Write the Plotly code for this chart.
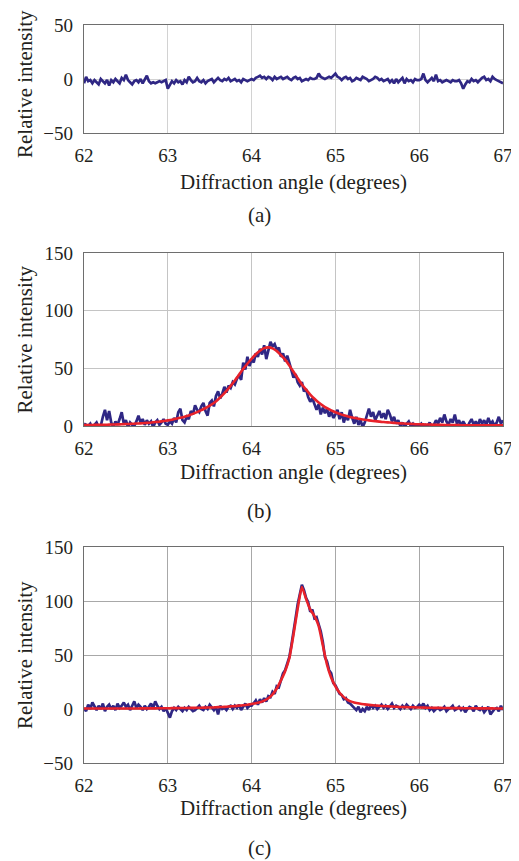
import plotly.graph_objects as go

# ---------------- data ----------------
ANGLE = [
    62.000, 62.025, 62.050, 62.075, 62.100, 62.125, 62.150, 62.175, 62.200, 62.225,
    62.250, 62.275, 62.300, 62.325, 62.350, 62.375, 62.400, 62.425, 62.450, 62.475,
    62.500, 62.525, 62.550, 62.575, 62.600, 62.625, 62.650, 62.675, 62.700, 62.725,
    62.750, 62.775, 62.800, 62.825, 62.850, 62.875, 62.900, 62.925, 62.950, 62.975,
    63.000, 63.025, 63.050, 63.075, 63.100, 63.125, 63.150, 63.175, 63.200, 63.225,
    63.250, 63.275, 63.300, 63.325, 63.350, 63.375, 63.400, 63.425, 63.450, 63.475,
    63.500, 63.525, 63.550, 63.575, 63.600, 63.625, 63.650, 63.675, 63.700, 63.725,
    63.750, 63.775, 63.800, 63.825, 63.850, 63.875, 63.900, 63.925, 63.950, 63.975,
    64.000, 64.025, 64.050, 64.075, 64.100, 64.125, 64.150, 64.175, 64.200, 64.225,
    64.250, 64.275, 64.300, 64.325, 64.350, 64.375, 64.400, 64.425, 64.450, 64.475,
    64.500, 64.525, 64.550, 64.575, 64.600, 64.625, 64.650, 64.675, 64.700, 64.725,
    64.750, 64.775, 64.800, 64.825, 64.850, 64.875, 64.900, 64.925, 64.950, 64.975,
    65.000, 65.025, 65.050, 65.075, 65.100, 65.125, 65.150, 65.175, 65.200, 65.225,
    65.250, 65.275, 65.300, 65.325, 65.350, 65.375, 65.400, 65.425, 65.450, 65.475,
    65.500, 65.525, 65.550, 65.575, 65.600, 65.625, 65.650, 65.675, 65.700, 65.725,
    65.750, 65.775, 65.800, 65.825, 65.850, 65.875, 65.900, 65.925, 65.950, 65.975,
    66.000, 66.025, 66.050, 66.075, 66.100, 66.125, 66.150, 66.175, 66.200, 66.225,
    66.250, 66.275, 66.300, 66.325, 66.350, 66.375, 66.400, 66.425, 66.450, 66.475,
    66.500, 66.525, 66.550, 66.575, 66.600, 66.625, 66.650, 66.675, 66.700, 66.725,
    66.750, 66.775, 66.800, 66.825, 66.850, 66.875, 66.900, 66.925, 66.950, 66.975,
    67.000,
]
ANGLE_FIT = ANGLE[::2]

# (a) measured signal
INTENSITY_A = [
    -4, 2, -2, -1, -4, -1, -3, -5, 0, -2, -4, -1, -6, -1, -3, 0, -2, -4, 1, -1,
    4, -1, -3, -5, -2, -1, -3, 0, -4, -1, 3, -2, -4, -3, -4, -3, -2, -3, -2, -1,
    -9, -5, -2, -4, -1, -3, -2, -5, -1, -3, 2, -1, -3, -2, 1, -2, -3, -1, -4, -2,
    -1, 0, -3, -1, 1, -1, -2, 0, -1, 1, -2, -1, 0, -2, -1, -3, 0, -1, -2, -1,
    0, -1, 1, 2, 3, 1, 2, 0, 2, 1, -1, 2, 0, 1, 2, 0, 1, 2, 0, -1,
    1, 2, 0, 1, -2, -1, 0, -1, 1, 0, 0, 1, 5, 2, 1, 0, 1, 2, 1, 3,
    5, 2, 1, -1, 1, 2, 0, 1, -2, -1, 1, 0, -1, 2, 1, 0, -2, -1, 0, 2,
    1, -1, 0, -2, -1, 0, -3, -1, -4, 0, -3, -1, 1, -4, 0, -2, -1, -3, 0, -1,
    -1, 0, 5, -1, -3, -1, 1, -2, 4, -2, -1, -3, -2, -1, -2, -3, -1, -2, -2, -1,
    -4, -9, -5, -2, -3, 0, -2, -1, -3, -1, 1, 2, -1, 0, -2, 2, 0, -1, -2, -3,
    -4,
]

# (b) measured signal and fitted profile
INTENSITY_B = [
    2, 1, 0, 2, -2, 1, 3, -1, 0, 8, 14, 5, 13, 3, -1, 4, 1, 6, 12, 2,
    5, -1, 3, 1, 0, 4, 9, 3, 6, 1, 5, 2, 4, -1, 3, 5, 1, 3, 6, 2,
    1, 4, 2, 7, 3, 12, 15, 5, 3, 8, 6, 13, 10, 18, 14, 12, 17, 20, 13, 9,
    20, 22, 17, 26, 30, 24, 28, 34, 29, 35, 33, 38, 36, 41, 44, 40, 55, 49, 60, 52,
    58, 55, 63, 60, 67, 62, 70, 58, 66, 73, 69, 71, 66, 68, 60, 63, 56, 61, 55, 48,
    42, 45, 38, 35, 38, 30, 32, 25, 21, 24, 18, 14, 19, 10, 16, 11, 15, 8, 13, 7,
    10, 14, 6, 12, 3, 9, 5, 14, 7, 2, 8, 1, 5, -1, 3, 10, 15, 8, 12, 5,
    9, 13, 7, 11, 6, 14, 10, 4, 8, 2, 5, 0, 3, -1, 2, 4, 0, 2, -1, 1,
    0, 2, -1, 1, 0, 3, -1, 1, 5, 2, 7, 3, 10, 4, 1, 6, 3, 10, 2, 5,
    0, 4, 1, -1, 3, 6, 1, 4, 0, 6, 2, 5, 1, 7, 2, 4, 0, 3, 8, 2,
    5,
]
FIT_B = [
    0.8, 0.9, 0.9, 1.0, 1.0, 1.1, 1.2, 1.3, 1.4, 1.5,
    1.7, 1.8, 2.0, 2.2, 2.4, 2.7, 3.0, 3.4, 3.8, 4.3,
    4.9, 5.5, 6.3, 7.1, 8.1, 9.2, 10.5, 12.0, 13.7, 15.6,
    17.6, 20.0, 23.0, 26.5, 30.5, 34.8, 39.5, 44.5, 49.5, 54.0,
    58.3, 62.2, 65.3, 67.5, 68.2, 67.3, 65.0, 61.5, 57.5, 52.5,
    47.0, 41.5, 36.0, 31.5, 27.3, 23.6, 20.4, 17.7, 15.4, 13.5,
    11.9, 10.5, 9.3, 8.3, 7.4, 6.7, 6.0, 5.4, 4.9, 4.4,
    4.0, 3.6, 3.3, 3.0, 2.7, 2.4, 2.2, 2.0, 1.8, 1.6,
    1.5, 1.4, 1.3, 1.2, 1.1, 1.0, 0.9, 0.9, 0.8, 0.8,
    0.7, 0.7, 0.7, 0.6, 0.6, 0.6, 0.5, 0.5, 0.5, 0.5,
    0.5,
]

# (c) measured signal and fitted profile
INTENSITY_C = [
    1, -2, 4, 0, 6, 2, -1, 3, 0, 5, -2, 2, 4, 0, 3, -1, 5, 1, 3, 6,
    2, 4, -1, 3, 7, 1, 4, 2, -1, 3, 0, 2, 5, 1, 7, 3, 0, 2, -2, 1,
    -3, -8, -2, 1, -1, 2, 0, -2, 1, -1, 2, 0, -2, -1, 1, 3, 0, -1, 2, 0,
    4, 1, -1, 2, -5, 3, 0, 1, -1, 2, 3, 0, 3, 1, 4, -1, 2, 5, 1, 3,
    3, 6, 8, 4, 9, 6, 10, 7, 12, 11, 16, 14, 21, 20, 27, 33, 36, 43, 48, 59,
    70, 84, 97, 108, 115, 110, 103, 99, 90, 92, 84, 85, 78, 72, 62, 48, 44, 36, 33, 24,
    22, 18, 14, 13, 9, 10, 6, 5, 3, 1, -1, 2, -3, 0, -2, 2, -1, 4, 1, 3,
    0, 2, 4, 1, 3, 0, 2, 5, 1, 3, 2, 0, 3, 1, 4, 2, 0, 3, 1, 2,
    4, 2, 5, 1, 3, -1, 1, -2, 0, 1, -1, 0, 2, -2, 0, 1, 3, -1, 0, 2,
    -1, 1, -3, 0, 2, 1, -2, 3, 0, -1, 1, -3, 0, 2, -5, -2, 0, 1, -2, 3,
    -1,
]
FIT_C = [
    0.4, 0.4, 0.4, 0.4, 0.4, 0.4, 0.4, 0.4, 0.5, 0.5,
    0.5, 0.5, 0.5, 0.5, 0.6, 0.6, 0.6, 0.6, 0.7, 0.7,
    0.7, 0.8, 0.8, 0.9, 0.9, 1.0, 1.0, 1.1, 1.2, 1.3,
    1.4, 1.5, 1.7, 1.9, 2.1, 2.4, 2.7, 3.1, 3.5, 4.0,
    4.6, 5.3, 6.3, 7.7, 10.0, 13.5, 19.0, 26.5, 35.0, 47.0,
    69.0, 93.0, 113.0, 102.0, 92.0, 86.0, 77.0, 59.0, 41.0, 29.0,
    21.0, 15.0, 11.0, 8.3, 6.6, 5.5, 4.8, 4.3, 3.8, 3.4,
    3.1, 2.8, 2.6, 2.4, 2.2, 2.0, 1.8, 1.7, 1.6, 1.5,
    1.4, 1.3, 1.2, 1.1, 1.0, 1.0, 0.9, 0.9, 0.8, 0.8,
    0.8, 0.7, 0.7, 0.7, 0.6, 0.6, 0.6, 0.6, 0.5, 0.5,
    0.5,
]

X_TICKS = [62, 63, 64, 65, 66, 67]
PANEL_LABELS = ["(a)", "(b)", "(c)"]
Y_RANGES = [[-50, 50], [0, 150], [-50, 150]]
X_TITLE = "Diffraction angle (degrees)"
Y_TITLE = "Relative intensity"

for arr in (INTENSITY_A, INTENSITY_B, INTENSITY_C):
    assert len(arr) == len(ANGLE), len(arr)
for arr in (FIT_B, FIT_C):
    assert len(arr) == len(ANGLE_FIT), len(arr)

# ---------------- layout ----------------
PAGE = 8                      # default body margin of the html page
W, H = 519 - PAGE, 861 - PAGE
L = 84 - PAGE
PW = 419
R = W - L - PW
# panel pixel extents (top, bottom) in page pixels
PANELS = [(25, 133), (253, 426), (547, 763)]
Y_TITLE_CENTER = [84, 339.5, 655]
GRID_COLORS = ["#d2d2d2", "#c4c4c4", "#a8a8a8"]

FONT = "Liberation Serif"
TXT = "#231f20"
DATA_COLOR = "#2f2784"
FIT_COLOR = "#e8222a"


def py(p):
    return 1 - (p - PAGE) / H


def px(p):
    return (p - PAGE - L) / PW


fig = go.Figure()

series = [(INTENSITY_A, None), (INTENSITY_B, FIT_B), (INTENSITY_C, FIT_C)]
for i, (meas, fit) in enumerate(series):
    suffix = "" if i == 0 else str(i + 1)
    fig.add_trace(go.Scatter(
        x=ANGLE, y=meas, mode="lines",
        line=dict(color=DATA_COLOR, width=2.7),
        xaxis="x" + suffix, yaxis="y" + suffix, showlegend=False,
    ))
    if fit is not None:
        fig.add_trace(go.Scatter(
            x=ANGLE_FIT, y=fit, mode="lines",
            line=dict(color=FIT_COLOR, width=2.6, shape="spline", smoothing=0.5),
            xaxis="x" + suffix, yaxis="y" + suffix, showlegend=False,
        ))

layout = dict(
    width=W, height=H, autosize=False,
    margin=dict(l=L, r=R, t=0, b=0, autoexpand=False),
    paper_bgcolor="white", plot_bgcolor="white",
    font=dict(family=FONT, color=TXT, size=19),
    showlegend=False,
)

annotations = []
for i, (top, bot) in enumerate(PANELS):
    suffix = "" if i == 0 else str(i + 1)
    gc = GRID_COLORS[i]
    layout["xaxis" + suffix] = dict(
        domain=[0, 1], anchor="y" + suffix, range=[62, 67],
        tickvals=X_TICKS, showgrid=True, gridcolor=gc, gridwidth=1.3,
        showline=True, linecolor="#6e6e6e", linewidth=1.4, mirror=True,
        zeroline=False, ticks="", ticklabelstandoff=5,
        tickfont=dict(family=FONT, size=19, color=TXT),
    )
    layout["yaxis" + suffix] = dict(
        domain=[py(bot), py(top)], anchor="x" + suffix, range=Y_RANGES[i],
        dtick=50, showgrid=True, gridcolor=gc, gridwidth=1.3,
        showline=True, linecolor="#6e6e6e", linewidth=1.4, mirror=True,
        zeroline=False, ticks="", ticklabelstandoff=6,
        tickfont=dict(family=FONT, size=19, color=TXT),
    )
    annotations.append(dict(
        text=Y_TITLE, textangle=-90, xref="paper", yref="paper",
        x=px(25), y=py(Y_TITLE_CENTER[i]), xanchor="center", yanchor="middle",
        showarrow=False, font=dict(family=FONT, size=21, color=TXT),
    ))

X_TITLE_Y = [182, 471.5, 808]
LABEL_Y = [215, 511.5, 848]
for i in range(3):
    annotations.append(dict(
        text=X_TITLE, xref="paper", yref="paper",
        x=0.5, y=py(X_TITLE_Y[i]), xanchor="center", yanchor="middle",
        showarrow=False, font=dict(family=FONT, size=21, color=TXT),
    ))
    annotations.append(dict(
        text=PANEL_LABELS[i], xref="paper", yref="paper",
        x=px(519 / 2), y=py(LABEL_Y[i]), xanchor="center", yanchor="middle",
        showarrow=False, font=dict(family=FONT, size=21, color=TXT),
    ))

layout["annotations"] = annotations
fig.update_layout(**layout)
fig.write_html("out.html")
